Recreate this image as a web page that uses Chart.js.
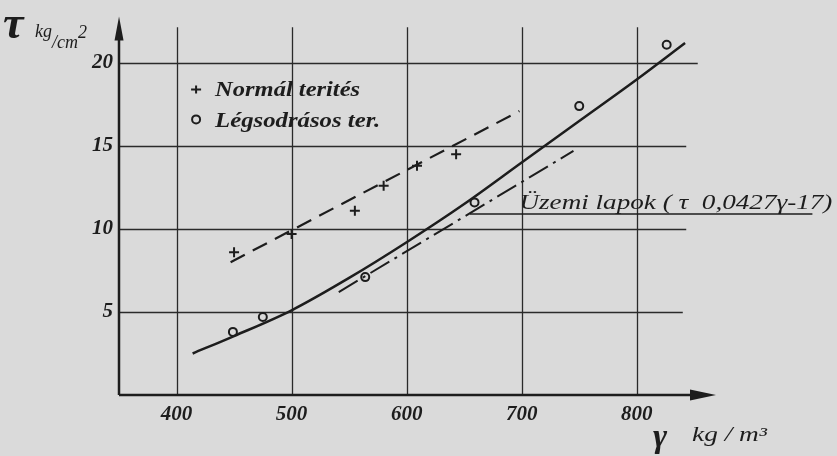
<!DOCTYPE html>
<html>
<head>
<meta charset="UTF-8" />
<title>Nyírószilárdság – térfogatsúly</title>
<script src="https://cdn.jsdelivr.net/npm/chart.js@4.4.1/dist/chart.umd.min.js"></script>
<style>
  html, body { margin: 0; padding: 0; background: #dadada; }
  canvas { display: block; }
</style>
</head>
<body>
<canvas id="chart" width="837" height="456"></canvas>
<script>
// tick labels
const gammaTicks = [400, 500, 600, 700, 800];
const tauTicks = [5, 10, 15, 20];

// Normál terítés (+)
const normalGamma = [450, 500, 555, 580, 609, 643];
const normalTau = [8.6, 9.7, 11.1, 12.6, 13.8, 14.5];

// Légsodrásos terítés (o)
const legsGamma = [449, 475, 564, 659, 750, 826];
const legsTau = [3.8, 4.7, 7.1, 11.6, 17.4, 21.1];

// dashed line through the + points
const normalFitGamma = [447, 698];
const normalFitTau = [8.0, 17.1];

// solid curve through the o points
const legsFitGamma = [414, 450, 500, 550, 600, 650, 700, 750, 800, 842];
const legsFitTau = [2.5, 3.55, 5.1, 7.05, 9.2, 11.5, 14.0, 16.5, 19.0, 21.2];

// Üzemi lapok, dash-dot
const uzemiGamma = [541, 745];
const uzemiTau = [6.2, 14.7];

const legendLabels = ['Normál terités', 'Légsodrásos ter.'];
const noteText = 'Üzemi lapok ( τ  0,0427γ-17)';

const ink = '#1d1d1d';
const serif = '"Liberation Serif", "DejaVu Serif", serif';

function pts(xs, ys) {
    return xs.map((x, i) => ({ x: x, y: ys[i] }));
}

// draw text squeezed/stretched to a given width
function fitText(ctx, str, x, y, font, width) {
    ctx.save();
    ctx.font = font;
    const w = ctx.measureText(str).width;
    ctx.translate(x, y);
    ctx.scale(width / w, 1);
    ctx.fillText(str, 0, 0);
    ctx.restore();
}

const paper = {
    id: 'paper',
    beforeDraw(chart) {
        const ctx = chart.ctx;
        ctx.save();
        ctx.fillStyle = '#dadada';
        ctx.fillRect(0, 0, chart.width, chart.height);
        ctx.restore();
    }
};

const frame = {
    id: 'frame',
    beforeDatasetsDraw(chart) {
        const { ctx, chartArea: a, scales: { x, y } } = chart;
        ctx.save();
        ctx.strokeStyle = '#2a2a2a';
        ctx.lineWidth = 1.3;
        const gridTop = y.getPixelForValue(22.15);
        gammaTicks.forEach(v => {
            const px = Math.round(x.getPixelForValue(v)) + 0.5;
            ctx.beginPath();
            ctx.moveTo(px, gridTop);
            ctx.lineTo(px, a.bottom);
            ctx.stroke();
        });
        const gridEnd = [840, 843, 843, 853];
        tauTicks.forEach((v, i) => {
            const py = Math.round(y.getPixelForValue(v)) + 0.5;
            ctx.beginPath();
            ctx.moveTo(a.left, py);
            ctx.lineTo(x.getPixelForValue(gridEnd[i]), py);
            ctx.stroke();
        });

        // axes with arrows
        ctx.strokeStyle = ink;
        ctx.fillStyle = ink;
        ctx.lineWidth = 2.5;
        ctx.beginPath();
        ctx.moveTo(a.left, a.bottom);
        ctx.lineTo(a.left, a.top + 10);
        ctx.moveTo(a.left, a.bottom);
        ctx.lineTo(a.right - 10, a.bottom);
        ctx.stroke();

        ctx.beginPath();
        ctx.moveTo(a.left, a.top - 2);
        ctx.lineTo(a.left - 4.5, a.top + 22);
        ctx.lineTo(a.left + 4.5, a.top + 22);
        ctx.closePath();
        ctx.fill();

        ctx.beginPath();
        ctx.moveTo(a.right + 1, a.bottom);
        ctx.lineTo(a.right - 25, a.bottom - 5.5);
        ctx.lineTo(a.right - 25, a.bottom + 5.5);
        ctx.closePath();
        ctx.fill();
        ctx.restore();
    },
    afterDatasetsDraw(chart) {
        const { ctx, scales: { x, y } } = chart;
        ctx.save();
        ctx.fillStyle = ink;
        ctx.strokeStyle = ink;

        // legend
        const lx = x.getPixelForValue(417);
        const r1 = y.getPixelForValue(18.4);
        const r2 = y.getPixelForValue(16.6);
        ctx.lineWidth = 2;
        ctx.beginPath();
        ctx.moveTo(lx - 5, r1); ctx.lineTo(lx + 5, r1);
        ctx.moveTo(lx, r1 - 4); ctx.lineTo(lx, r1 + 4);
        ctx.stroke();
        ctx.beginPath();
        ctx.arc(lx, r2, 4, 0, Math.PI * 2);
        ctx.stroke();
        ctx.textBaseline = 'alphabetic';
        fitText(ctx, legendLabels[0], lx + 19, r1 + 7, 'italic bold 20px ' + serif, 145);
        fitText(ctx, legendLabels[1], lx + 19, r2 + 8, 'italic bold 20px ' + serif, 165);

        // Üzemi lapok annotation
        const tx = x.getPixelForValue(698);
        const ty = y.getPixelForValue(11.2);
        fitText(ctx, noteText, tx, ty, 'italic 21px ' + serif, 313);
        ctx.lineWidth = 1.4;
        ctx.beginPath();
        ctx.moveTo(x.getPixelForValue(655), ty + 5);
        ctx.lineTo(tx + 293, ty + 5);
        ctx.stroke();

        // axis titles
        ctx.font = 'italic bold 46px ' + serif;
        ctx.fillText('τ', 3, 38);
        ctx.font = 'italic 18px ' + serif;
        let cx = 35;
        ctx.fillText('kg', cx, 37);
        cx += ctx.measureText('kg').width;
        ctx.fillText('/cm', cx, 48);
        cx += ctx.measureText('/cm').width;
        ctx.fillText('2', cx, 38);

        ctx.font = 'italic bold 34px ' + serif;
        ctx.fillText('γ', 653, 447);
        fitText(ctx, 'kg / m³', 692, 441, 'italic 20px ' + serif, 75);
        ctx.restore();
    }
};

const tickFont = { family: serif, style: 'italic', weight: 'bold', size: 21 };

new Chart('chart', {
    type: 'scatter',
    data: {
        datasets: [
            {
                data: pts(normalGamma, normalTau),
                pointStyle: 'cross',
                pointRadius: 5,
                borderWidth: 2,
                borderColor: ink,
                showLine: false
            },
            {
                data: pts(legsGamma, legsTau),
                pointStyle: 'circle',
                pointRadius: 4,
                borderWidth: 2,
                borderColor: ink,
                backgroundColor: 'transparent',
                showLine: false
            },
            {
                data: pts(normalFitGamma, normalFitTau),
                showLine: true,
                pointRadius: 0,
                borderColor: ink,
                borderWidth: 2.2,
                borderDash: [16, 9]
            },
            {
                data: pts(legsFitGamma, legsFitTau),
                showLine: true,
                pointRadius: 0,
                borderColor: ink,
                borderWidth: 2.5,
                cubicInterpolationMode: 'monotone'
            },
            {
                data: pts(uzemiGamma, uzemiTau),
                showLine: true,
                pointRadius: 0,
                borderColor: ink,
                borderWidth: 2,
                borderDash: [22, 6, 3, 6]
            }
        ]
    },
    plugins: [paper, frame],
    options: {
        responsive: false,
        animation: false,
        layout: { padding: { top: 5, right: 122, bottom: 0, left: 0 } },
        scales: {
            x: {
                type: 'linear',
                min: 350,
                max: 868,
                afterBuildTicks: s => { s.ticks = gammaTicks.map(v => ({ value: v })); },
                afterFit: s => { s.height = 61; },
                grid: { display: false, drawTicks: false },
                border: { display: false },
                ticks: { color: ink, font: tickFont, padding: 7, maxRotation: 0 }
            },
            y: {
                type: 'linear',
                min: 0,
                max: 22.67,
                afterBuildTicks: s => { s.ticks = tauTicks.map(v => ({ value: v })); },
                afterFit: s => { s.width = 119; },
                grid: { display: false, drawTicks: false },
                border: { display: false },
                ticks: { color: ink, font: tickFont, padding: 6 }
            }
        },
        plugins: {
            legend: { display: false },
            tooltip: { enabled: false }
        }
    }
});
</script>
</body>
</html>
